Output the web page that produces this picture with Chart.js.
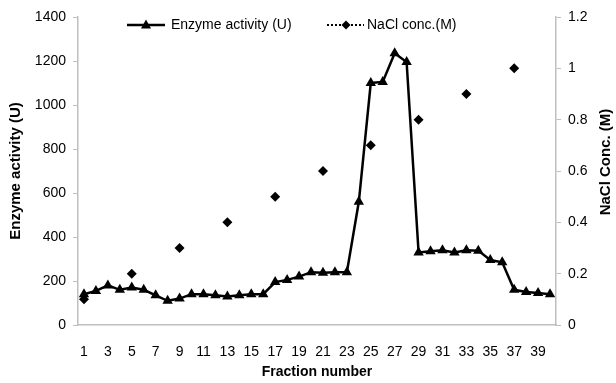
<!DOCTYPE html>
<html>
<head>
<meta charset="utf-8">
<script src="https://cdn.jsdelivr.net/npm/chart.js@4"></script>
<style>
  html, body { margin: 0; padding: 0; background: #fff; }
  #wrap { width: 616px; height: 383px; }
</style>
</head>
<body>
<div id="wrap"><canvas id="myChart" width="616" height="383"></canvas></div>
<script>
// fraction numbers on the x axis
const fractions = [];
for (let i = 1; i <= 40; i++) fractions.push(String(i));

// enzyme activity (U), left axis
const enzymeActivity = [140, 155, 180, 160, 170, 160, 135, 110, 120, 140,
                        140, 135, 130, 135, 140, 140, 195, 205, 220, 240,
                        238, 240, 240, 560, 1100, 1105, 1235, 1195, 330, 335,
                        340, 330, 340, 338, 295, 285, 160, 150, 145, 140];

// NaCl concentration (M), right axis - only measured every 4th fraction
const naclConc = [0.1, null, null, null, 0.2, null, null, null, 0.3, null,
                  null, null, 0.4, null, null, null, 0.5, null, null, null,
                  0.6, null, null, null, 0.7, null, null, null, 0.8, null,
                  null, null, 0.9, null, null, null, 1.0, null, null, null];

const leftTicks = [0, 200, 400, 600, 800, 1000, 1200, 1400];
const rightTicks = [0, 0.2, 0.4, 0.6, 0.8, 1, 1.2];

const FONT = "'Liberation Sans', Arial, sans-serif";
const axisGray = '#bfbfbf';

// legend drawn like excel: line sample + marker + text, and the rotated right axis title
const excelBits = {
    id: 'excelBits',
    afterDraw(chart) {
        const ctx = chart.ctx;
        ctx.save();
        // legend item 1
        ctx.strokeStyle = '#000';
        ctx.fillStyle = '#000';
        ctx.lineWidth = 2.5;
        ctx.beginPath();
        ctx.moveTo(127, 25);
        ctx.lineTo(165, 25);
        ctx.stroke();
        ctx.beginPath();
        ctx.moveTo(146, 19.5);
        ctx.lineTo(151, 28.5);
        ctx.lineTo(141, 28.5);
        ctx.closePath();
        ctx.fill();
        // legend item 2 (dotted)
        ctx.lineWidth = 2;
        ctx.setLineDash([2, 2]);
        ctx.beginPath();
        ctx.moveTo(327, 25);
        ctx.lineTo(364, 25);
        ctx.stroke();
        ctx.setLineDash([]);
        ctx.beginPath();
        ctx.moveTo(346, 20.5);
        ctx.lineTo(350.5, 25);
        ctx.lineTo(346, 29.5);
        ctx.lineTo(341.5, 25);
        ctx.closePath();
        ctx.fill();

        ctx.font = '14px ' + FONT;
        ctx.textBaseline = 'middle';
        ctx.textAlign = 'left';
        ctx.fillText(chart.data.datasets[0].label, 171, 25);
        ctx.fillText(chart.data.datasets[1].label, 367, 25);

        // right axis title, reads bottom to top
        ctx.font = 'bold 15px ' + FONT;
        ctx.translate(606, 162);
        ctx.rotate(-Math.PI / 2);
        ctx.textAlign = 'center';
        ctx.fillText('NaCl Conc. (M)', 0, 0);
        ctx.restore();
    }
};

const ctx = document.getElementById('myChart').getContext('2d');
const myChart = new Chart(ctx, {
    type: 'line',
    data: {
        labels: fractions,
        datasets: [{
            label: 'Enzyme activity (U)',
            data: enzymeActivity,
            yAxisID: 'y',
            borderColor: '#000',
            backgroundColor: '#000',
            borderWidth: 2.5,
            pointStyle: 'triangle',
            pointRadius: 6,
            pointBorderWidth: 0,
            tension: 0
        }, {
            label: 'NaCl conc.(M)',
            data: naclConc,
            yAxisID: 'y1',
            showLine: false,
            borderColor: '#000',
            backgroundColor: '#000',
            pointStyle: 'rectRot',
            pointRadius: 5,
            pointBorderWidth: 0
        }]
    },
    options: {
        responsive: false,
        animation: false,
        layout: { padding: { top: 17, left: 0, right: 0, bottom: 0 } },
        plugins: {
            legend: { display: false },
            tooltip: { enabled: false }
        },
        scales: {
            x: {
                offset: true,
                grid: { display: false },
                border: { color: axisGray, width: 1.5 },
                ticks: {
                    autoSkip: false,
                    maxRotation: 0,
                    padding: 11,
                    color: '#000',
                    font: { family: FONT, size: 14 },
                    callback: (v, i) => (i % 2 === 0 ? fractions[i] : '')
                },
                title: {
                    display: true,
                    text: 'Fraction number',
                    color: '#000',
                    font: { family: FONT, size: 14, weight: 'bold' },
                    padding: { top: 0, bottom: 2 }
                },
                afterFit: (s) => { s.height = 58; }
            },
            y: {
                position: 'left',
                min: 0,
                max: 1400,
                afterBuildTicks: (s) => { s.ticks = leftTicks.map(v => ({ value: v })); },
                grid: { drawOnChartArea: false, drawTicks: true, tickLength: 5, color: axisGray },
                border: { color: axisGray, width: 1.5 },
                ticks: {
                    padding: 7,
                    color: '#000',
                    font: { family: FONT, size: 14 },
                    callback: (v) => String(v)
                },
                title: {
                    display: true,
                    text: 'Enzyme activity (U)',
                    color: '#000',
                    font: { family: FONT, size: 15, weight: 'bold' },
                    padding: { top: 7, bottom: 0 }
                },
                afterFit: (s) => { s.width = 78; }
            },
            y1: {
                position: 'right',
                min: 0,
                max: 1.2,
                afterBuildTicks: (s) => { s.ticks = rightTicks.map(v => ({ value: v })); },
                grid: { drawOnChartArea: false, drawTicks: true, tickLength: 5, color: axisGray },
                border: { color: axisGray, width: 1.5 },
                ticks: {
                    padding: 7,
                    color: '#000',
                    font: { family: FONT, size: 14 },
                    callback: (v) => String(v)
                },
                afterFit: (s) => { s.width = 60; }
            }
        }
    },
    plugins: [excelBits]
});
</script>
</body>
</html>
